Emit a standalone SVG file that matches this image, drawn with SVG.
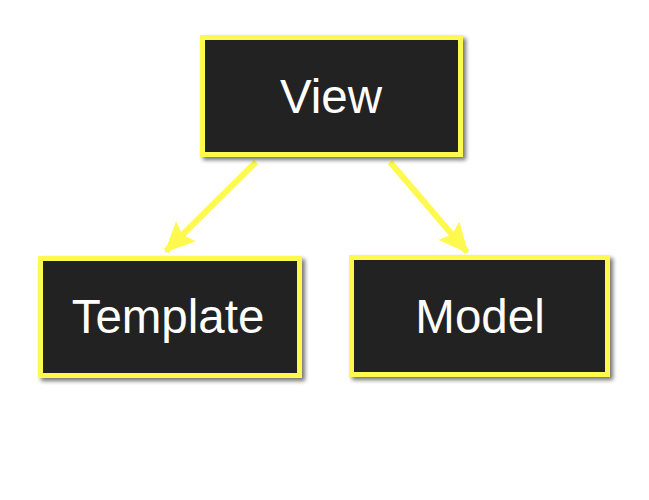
<svg xmlns="http://www.w3.org/2000/svg" width="649" height="500" viewBox="0 0 649 500">
<defs>
<filter id="sh" x="-10%" y="-10%" width="130%" height="130%">
<feGaussianBlur in="SourceAlpha" stdDeviation="2"/>
<feOffset dx="3" dy="3" result="b"/>
<feComponentTransfer><feFuncA type="linear" slope="0.55"/></feComponentTransfer>
<feMerge><feMergeNode/><feMergeNode in="SourceGraphic"/></feMerge>
</filter>
<marker id="ah" markerUnits="userSpaceOnUse" markerWidth="32" markerHeight="32" refX="28" refY="14" orient="auto" viewBox="0 0 32 28">
<path d="M0,0 L30,14 L0,28 L5,14 z" fill="#fdf94f"/>
</marker>
<style>
.box{fill:#222222;stroke:#fdf94f;stroke-width:5;filter:url(#sh)}
.lbl{font-family:"Liberation Sans",Arial,sans-serif;font-size:47.5px;fill:#ffffff;text-anchor:middle}
.conn{stroke:#fdf94f;stroke-width:6;fill:none;marker-end:url(#ah)}
</style>
</defs>
<rect width="649" height="500" fill="#ffffff"/>
<g id="connectors">
<line class="conn" x1="256" y1="162" x2="166" y2="251"/>
<line class="conn" x1="390" y1="162" x2="467" y2="252"/>
</g>
<g id="view">
<rect class="box" x="202.5" y="37.5" width="258" height="117"/>
<text class="lbl" x="331" y="113">View</text>
</g>
<g id="template">
<rect class="box" x="40.5" y="258.5" width="259" height="117"/>
<text class="lbl" x="168" y="333">Template</text>
</g>
<g id="model">
<rect class="box" x="351.5" y="257.5" width="256" height="117"/>
<text class="lbl" x="480" y="333">Model</text>
</g>
</svg>
